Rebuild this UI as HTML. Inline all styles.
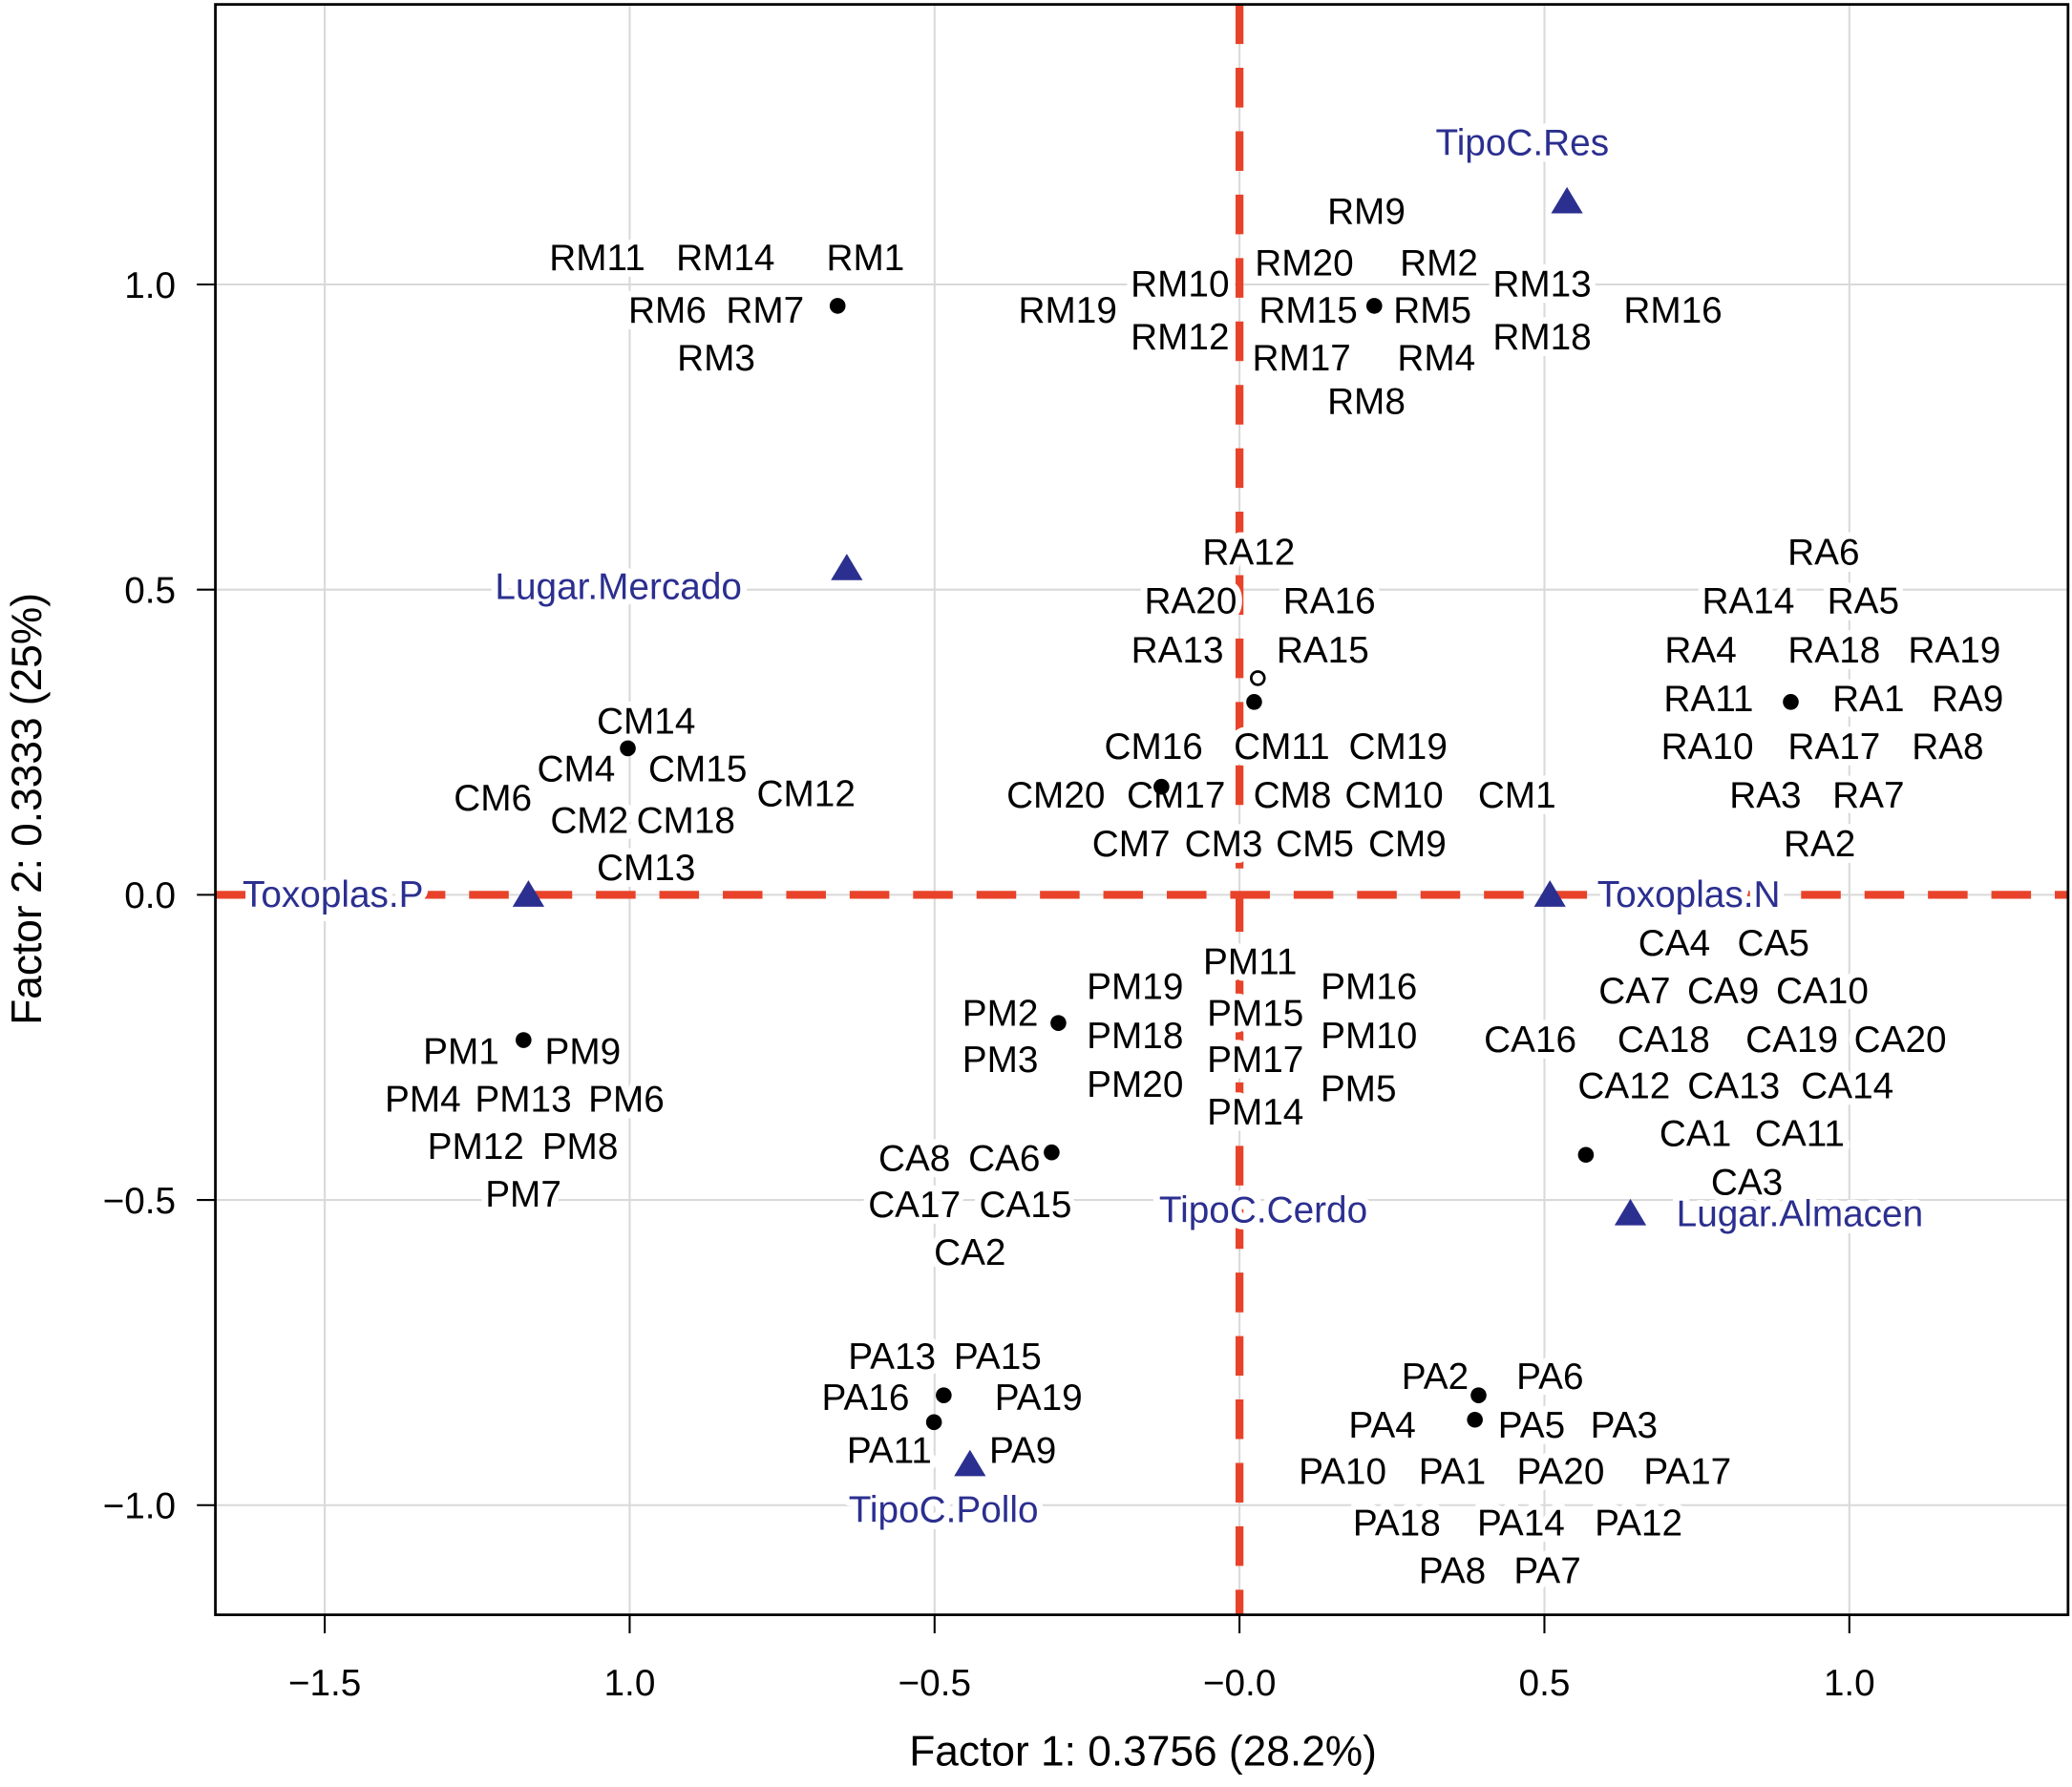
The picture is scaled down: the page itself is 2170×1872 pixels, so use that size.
<!DOCTYPE html>
<html><head><meta charset="utf-8"><style>
html,body{margin:0;padding:0;background:#fff;}
svg{display:block;font-family:"Liberation Sans",Arial,sans-serif;}
.lb{font-size:28px;fill:#000;text-anchor:middle;stroke:#fff;stroke-width:10px;paint-order:stroke;stroke-linejoin:round;}
.bl{fill:#2b2f8f;}
.tk{font-size:28px;fill:#000;}
</style></head><body>
<svg id="chart" width="2170" height="1872" viewBox="0 0 1568 1352" xmlns="http://www.w3.org/2000/svg">
<g id="grid"></g>
<g id="ref"></g>
<g id="labels"></g>
<g id="marks"></g>
<rect x="163" y="3" width="1402" height="1219" fill="none" stroke="#000" stroke-width="2"/>
<g id="axes"></g>
<text x="865" y="1336" font-size="32" text-anchor="middle">Factor 1: 0.3756 (28.2%)</text>
<text transform="translate(31,612) rotate(-90)" font-size="32" text-anchor="middle">Factor 2: 0.3333 (25%)</text>
</svg>
<script>
// data
const xTicks = [-1.5, -1.0, -0.5, 0, 0.5, 1.0];
const xTickLabels = ["\u22121.5", "1.0", "\u22120.5", "\u22120.0", "0.5", "1.0"];
const yTicks = [1.0, 0.5, 0, -0.5, -1.0];
const yTickLabels = ["1.0", "0.5", "0.0", "\u22120.5", "\u22121.0"];
const dotX = [-0.659, 0.221, 0.024, 0.904, -1.003, -0.128, 0.568, -0.297, -1.174, -0.308, -0.485, -0.501, 0.392, 0.386];
const dotY = [0.965, 0.965, 0.316, 0.316, 0.240, 0.177, -0.426, -0.210, -0.238, -0.422, -0.820, -0.864, -0.820, -0.860];
const openX = [0.030];
const openY = [0.355];
const triNames = ["TipoC.Res","Lugar.Mercado","Toxoplas.P","Toxoplas.N","Lugar.Almacen","TipoC.Pollo","TipoC.Cerdo"];
const triX = [0.537, -0.644, -1.166, 0.509, 0.641, -0.442, null];
const triY = [1.136, 0.535, 0, 0, -0.522, -0.933, null];
const triLabelPos = [[1152,107],[468,443],[252,676],[1278,676],[1362,918],[714,1142],[956,915]];
// label layout (pixel positions of observation names)
const labelLayout = [
["RM11",452,194],["RM14",549,194],["RM1",655,194],["RM6",505,234],["RM7",579,234],["RM3",542,270],
["RM9",1034,159],["RM20",987,198],["RM2",1089,198],["RM10",893,214],["RM13",1167,214],["RM19",808,234],["RM15",990,234],["RM5",1084,234],["RM16",1266,234],["RM12",893,254],["RM18",1167,254],["RM17",985,270],["RM4",1087,270],["RM8",1034,303],
["RA12",945,417],["RA20",901,454],["RA16",1006,454],["RA13",891,491],["RA15",1001,491],
["RA6",1380,417],["RA14",1323,454],["RA5",1410,454],["RA4",1287,491],["RA18",1388,491],["RA19",1479,491],["RA11",1293,528],["RA1",1414,528],["RA9",1489,528],["RA10",1292,564],["RA17",1388,564],["RA8",1474,564],["RA3",1336,601],["RA7",1414,601],["RA2",1377,638],
["CM14",489,545],["CM4",436,581],["CM15",528,581],["CM6",373,603],["CM12",610,600],["CM2",446,620],["CM18",519,620],["CM13",489,656],
["CM16",873,564],["CM11",970,564],["CM19",1058,564],["CM20",799,601],["CM17",890,601],["CM8",978,601],["CM10",1055,601],["CM1",1148,601],["CM7",856,638],["CM3",926,638],["CM5",995,638],["CM9",1065,638],
["CA4",1267,713],["CA5",1342,713],["CA7",1237,749],["CA9",1304,749],["CA10",1379,749],["CA16",1158,786],["CA18",1259,786],["CA19",1356,786],["CA20",1438,786],["CA12",1229,821],["CA13",1312,821],["CA14",1398,821],["CA1",1283,857],["CA11",1362,857],["CA3",1322,894],
["PM11",946,727],["PM19",859,746],["PM16",1036,746],["PM2",757,766],["PM15",950,766],["PM18",859,783],["PM10",1036,783],["PM3",757,801],["PM17",950,801],["PM20",859,820],["PM5",1028,823],["PM14",950,841],
["PM1",349,795],["PM9",441,795],["PM4",320,831],["PM13",396,831],["PM6",474,831],["PM12",360,867],["PM8",439,867],["PM7",396,903],
["CA8",692,876],["CA6",760,876],["CA17",692,911],["CA15",776,911],["CA2",734,947],
["PA13",675,1026],["PA15",755,1026],["PA16",655,1057],["PA19",786,1057],["PA11",673,1097],["PA9",774,1097],
["PA2",1086,1041],["PA6",1173,1041],["PA4",1046,1078],["PA5",1159,1078],["PA3",1229,1078],["PA10",1016,1113],["PA1",1099,1113],["PA20",1181,1113],["PA17",1277,1113],["PA18",1057,1152],["PA14",1151,1152],["PA12",1240,1152],["PA8",1099,1188],["PA7",1171,1188]
];
const NS="http://www.w3.org/2000/svg";
const L=163,R=1565,T=3,B=1222;
function xs(v){return 938+v*461.5;}
function ys(v){return 677-v*462;}
function mk(tag,parent,attrs){const e=document.createElementNS(NS,tag);for(const k in attrs)e.setAttribute(k,attrs[k]);parent.appendChild(e);return e;}
const grid=document.getElementById('grid'),axes=document.getElementById('axes'),lab=document.getElementById('labels'),marks=document.getElementById('marks'),ref=document.getElementById('ref');
xTicks.forEach((v,i)=>{
 const g=mk('line',grid,{x1:xs(v),x2:xs(v),y1:T,y2:B,stroke:'#d9d9d9','stroke-width':1.5});
 
 
 const t=mk('line',axes,{x1:xs(v),x2:xs(v),y1:B,y2:B+14,stroke:'#000','stroke-width':1.5});
 
 
 const tx=mk('text',axes,{x:xs(v),y:B+61,'text-anchor':'middle',class:'tk'});
 tx.textContent=xTickLabels[i];
 
 
});
yTicks.forEach((v,i)=>{
 const g=mk('line',grid,{x1:L,x2:R,y1:ys(v),y2:ys(v),stroke:'#d9d9d9','stroke-width':1.5});
 
 
 const t=mk('line',axes,{x1:L-14,x2:L,y1:ys(v),y2:ys(v),stroke:'#000','stroke-width':1.5});
 
 
 const tx=mk('text',axes,{x:L-30,y:ys(v)+10,'text-anchor':'end',class:'tk'});
 tx.textContent=yTickLabels[i];
 
 
});
let l1=mk('line',ref,{x1:xs(0),x2:xs(0),y1:T,y2:B,stroke:'#e8432a','stroke-width':6,'stroke-dasharray':'30 18'});


let l2=mk('line',ref,{x1:L,x2:R,y1:ys(0),y2:ys(0),stroke:'#e8432a','stroke-width':6,'stroke-dasharray':'30 18'});


labelLayout.forEach(d=>{
 const t=mk('text',lab,{x:d[1],y:d[2]+10,class:'lb'});
 t.textContent=d[0];
 
 
});
triNames.forEach((n,i)=>{
 const t=mk('text',lab,{x:triLabelPos[i][0],y:triLabelPos[i][1]+10,class:'lb bl'});
 t.textContent=n;
 
 
 if(triX[i]===null)return;
 const cx=xs(triX[i]),cy=ys(triY[i]);
 const p=mk('polygon',marks,{points:`${cx},${cy-11} ${cx-12},${cy+9} ${cx+12},${cy+9}`,fill:'#2b2f8f'});
 
 
});
dotX.forEach((v,i)=>{
 const c=mk('circle',marks,{cx:xs(v),cy:ys(dotY[i]),r:6,fill:'#000'});
 
 
});
openX.forEach((v,i)=>{
 const c=mk('circle',marks,{cx:xs(v),cy:ys(openY[i]),r:5,fill:'#fff',stroke:'#000','stroke-width':2});
 
 
});
</script>
</body></html>
